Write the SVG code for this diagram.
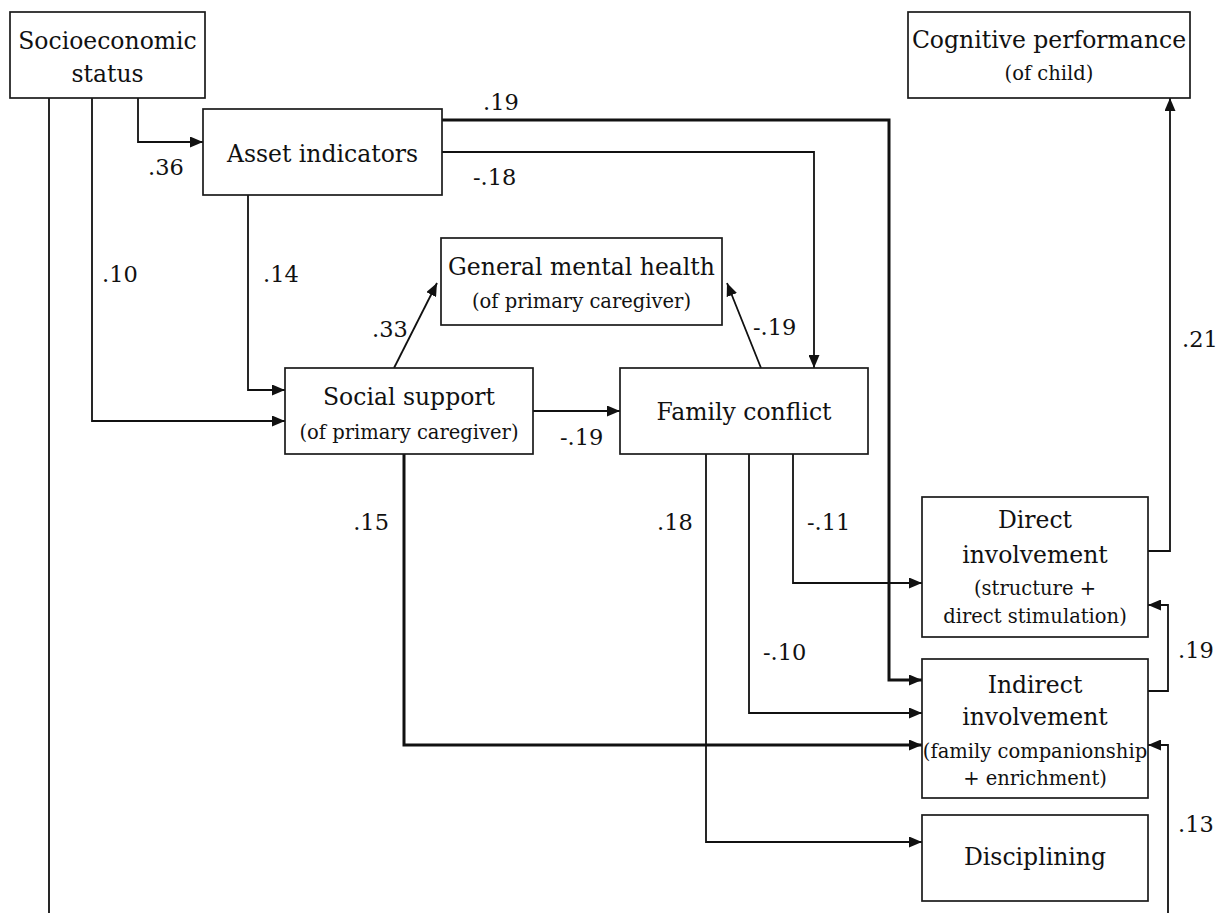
<svg xmlns="http://www.w3.org/2000/svg" width="1224" height="913" viewBox="0 0 1224 913">
<style>
.box{fill:#fff;stroke:#1a1a1a;stroke-width:1.7}
.t{font-family:"DejaVu Serif","Liberation Serif",serif;font-size:23.5px;fill:#111;text-anchor:middle}
.s{font-family:"DejaVu Serif","Liberation Serif",serif;font-size:19.5px;fill:#111;text-anchor:middle}
.lab{font-family:"DejaVu Serif","Liberation Serif",serif;font-size:22.5px;fill:#111}
.c{fill:none;stroke:#111;stroke-width:1.8}
.k{fill:none;stroke:#111;stroke-width:3}
</style>
<defs>
<marker id="ah" markerUnits="userSpaceOnUse" markerWidth="13" markerHeight="11" refX="13" refY="5.5" orient="auto">
<path d="M0,0 L13,5.5 L0,11 z" fill="#111"/>
</marker>
</defs>
<rect width="1224" height="913" fill="#fff"/>
<g id="connectors">
<path class="c" d="M138,98 V142 H203" marker-end="url(#ah)"/>
<path class="c" d="M92,98 V421 H285" marker-end="url(#ah)"/>
<path class="c" d="M49,98 V930 H1168 V745 H1148" marker-end="url(#ah)"/>
<path class="c" d="M248,195 V390 H285" marker-end="url(#ah)"/>
<path class="c" d="M442,152 H814 V368" marker-end="url(#ah)"/>
<path class="k" d="M442,120 H889 V680 H922" marker-end="url(#ah)"/>
<path class="c" d="M394,368 L437,283" marker-end="url(#ah)"/>
<path class="c" d="M533,411 H620" marker-end="url(#ah)"/>
<path class="c" d="M761,368 L727,283" marker-end="url(#ah)"/>
<path class="k" d="M404,454 V745 H922" marker-end="url(#ah)"/>
<path class="c" d="M706,454 V842 H922" marker-end="url(#ah)"/>
<path class="c" d="M749,454 V713 H922" marker-end="url(#ah)"/>
<path class="c" d="M793,454 V583 H922" marker-end="url(#ah)"/>
<path class="c" d="M1148,551 H1170 V98" marker-end="url(#ah)"/>
<path class="c" d="M1148,691 H1168 V605 H1148" marker-end="url(#ah)"/>
</g>
<g id="labels">
<text class="lab" x="483" y="110">.19</text>
<text class="lab" x="473" y="185">-.18</text>
<text class="lab" x="148" y="175">.36</text>
<text class="lab" x="102" y="282">.10</text>
<text class="lab" x="263" y="282">.14</text>
<text class="lab" x="372" y="337">.33</text>
<text class="lab" x="753" y="335">-.19</text>
<text class="lab" x="560" y="445">-.19</text>
<text class="lab" x="1182" y="347">.21</text>
<text class="lab" x="389" y="530" text-anchor="end">.15</text>
<text class="lab" x="657" y="530">.18</text>
<text class="lab" x="807" y="530">-.11</text>
<text class="lab" x="763" y="660">-.10</text>
<text class="lab" x="1178" y="658">.19</text>
<text class="lab" x="1178" y="832">.13</text>
</g>
<g id="ses">
<rect class="box" x="10" y="12" width="195" height="86"/>
<text class="t" x="107.5" y="49">Socioeconomic</text>
<text class="t" x="107.5" y="82">status</text>
</g>
<g id="asset">
<rect class="box" x="203" y="109" width="239" height="86"/>
<text class="t" x="322.5" y="162">Asset indicators</text>
</g>
<g id="cognitive">
<rect class="box" x="908" y="12" width="282" height="86"/>
<text class="t" x="1049" y="48">Cognitive performance</text>
<text class="s" x="1049" y="80">(of child)</text>
</g>
<g id="mental">
<rect class="box" x="441" y="238" width="281" height="87"/>
<text class="t" x="581.5" y="275">General mental health</text>
<text class="s" x="581.5" y="308">(of primary caregiver)</text>
</g>
<g id="social">
<rect class="box" x="285" y="368" width="248" height="86"/>
<text class="t" x="409" y="405">Social support</text>
<text class="s" x="409" y="439">(of primary caregiver)</text>
</g>
<g id="conflict">
<rect class="box" x="620" y="368" width="248" height="86"/>
<text class="t" x="744" y="420">Family conflict</text>
</g>
<g id="direct">
<rect class="box" x="922" y="497" width="226" height="140"/>
<text class="t" x="1035" y="528">Direct</text>
<text class="t" x="1035" y="563">involvement</text>
<text class="s" x="1035" y="595">(structure +</text>
<text class="s" x="1035" y="623">direct stimulation)</text>
</g>
<g id="indirect">
<rect class="box" x="922" y="659" width="226" height="139"/>
<text class="t" x="1035" y="693">Indirect</text>
<text class="t" x="1035" y="725">involvement</text>
<text class="s" x="1035" y="758">(family companionship</text>
<text class="s" x="1035" y="785">+ enrichment)</text>
</g>
<g id="disciplining">
<rect class="box" x="922" y="815" width="226" height="86"/>
<text class="t" x="1035" y="865">Disciplining</text>
</g>
</svg>
